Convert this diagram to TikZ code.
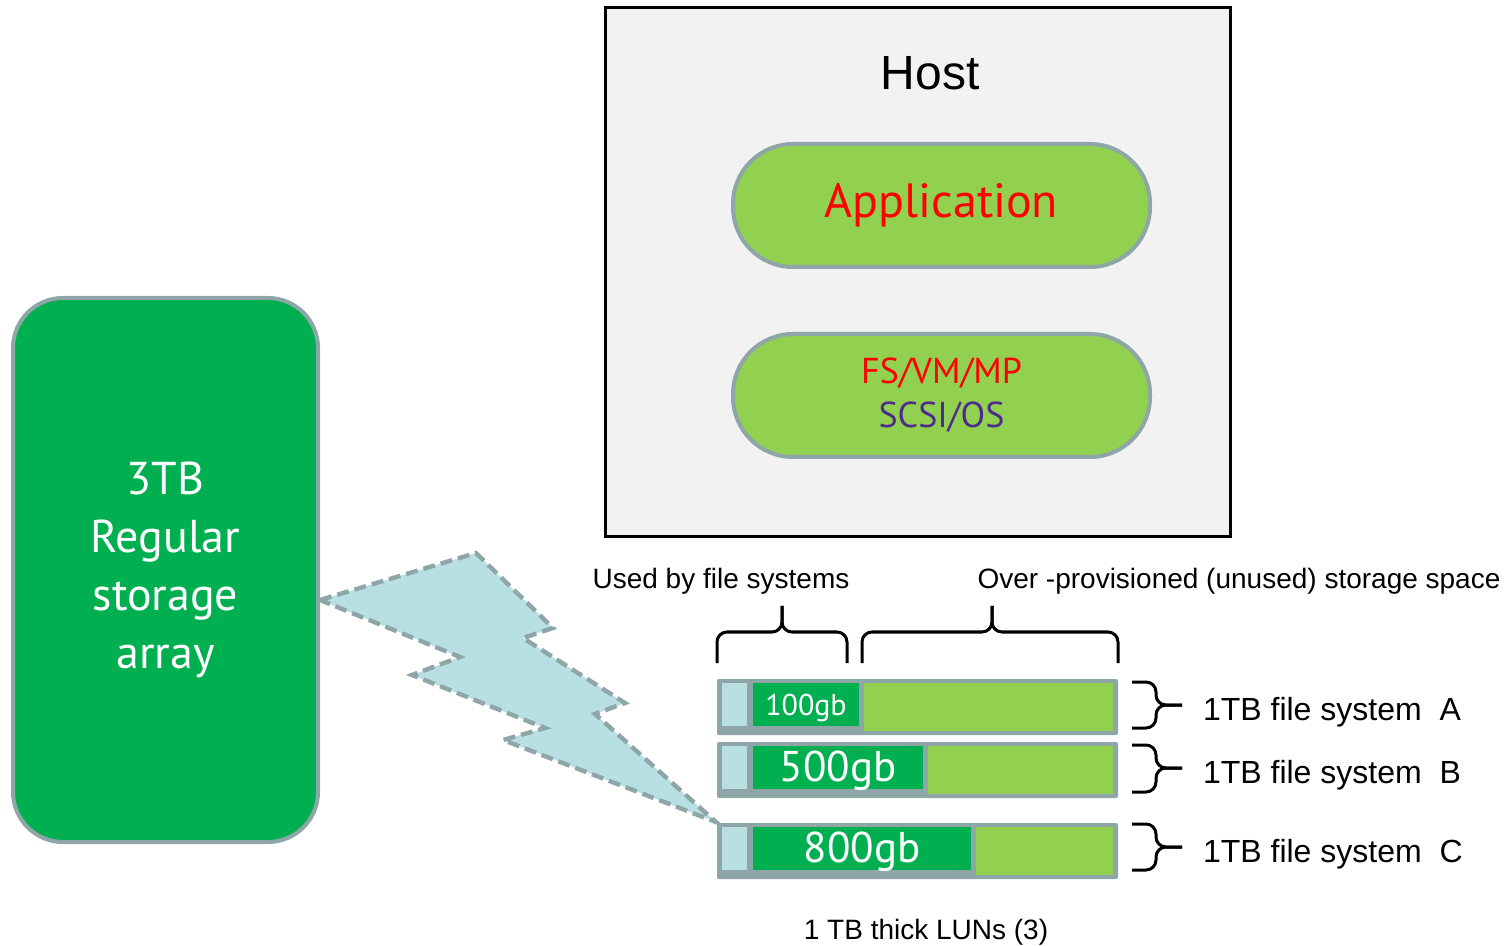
\documentclass[tikz,border=0pt]{standalone}
\usepackage{fontspec}
\setmainfont{Liberation Sans}
\newfontfamily\gillfont{PT Sans}
\definecolor{lungray}{HTML}{8EA6A8}
\definecolor{usedgreen}{HTML}{00B050}
\definecolor{freegreen}{HTML}{92D050}
\definecolor{boltblue}{HTML}{B8DFE2}
\definecolor{hostgray}{HTML}{F2F2F2}
\definecolor{scsipurple}{HTML}{4E2C8E}
\tikzset{
  pill/.style={draw=lungray,line width=2pt,fill=freegreen,rounded corners=30pt,
    minimum width=208.5pt,minimum height=61.5pt,font=\gillfont,align=center},
  brace/.style={line width=1.5pt,rounded corners=5pt},
  lbl/.style={font=\fontsize{14}{16}\selectfont},
}
\begin{document}
\begin{tikzpicture}[x=0.5pt,y=-0.5pt]
  \useasboundingbox (0,0) rectangle (1511,946);
  % host with its two layers
  \node[draw,line width=1.5pt,fill=hostgray,minimum width=312.5pt,minimum height=264.5pt]
    (host) at (917.5,272.5) {};
  \node[font=\fontsize{24}{28}\selectfont] (hostname) at (930,73) {Host};
  \node[pill,text=red,font=\gillfont\fontsize{24}{28}\selectfont] (app) at (941.5,205.5) {Application};
  \node[pill,font=\gillfont\fontsize{18}{22}\selectfont] (stack) at (941.5,395.5)
    {\textcolor{red}{FS/VM/MP}\\\textcolor{scsipurple}{SCSI/OS}};
  % the array
  \node[draw=lungray,line width=2pt,fill=usedgreen,rounded corners=25pt,
    minimum width=152.5pt,minimum height=272pt,text=white,align=center,
    font=\gillfont\fontsize{23}{29}\selectfont] (array) at (165.5,570)
    {3TB\\Regular\\storage\\array};
  % lightning link
  \draw[fill=boltblue,draw=lungray,line width=2.2pt,dash pattern=on 6pt off 3pt]
    (320,600) -- (476,553) -- (553,628) -- (523,638) -- (625,703) -- (595,714)
    -- (716,822) -- (503,740) -- (545,728) -- (412,675) -- (460,657) -- cycle;
  % thick LUNs
  \foreach \top/\used/\size/\sz/\nm in {679/859/100gb/15/lunA,742/923/500gb/21.5/lunB,823/971/800gb/21.5/lunC}{
    \fill[lungray,rounded corners=1pt] (717,\top) rectangle (1118,\top+56);
    \fill[boltblue] (722,\top+4) rectangle (747,\top+47);
    \fill[freegreen] (\used+5,\top+4) rectangle (1113,\top+52);
    \fill[usedgreen] (753,\top+4) rectangle (\used,\top+47);
    \node[text=white,font=\gillfont\fontsize{\sz}{\sz}\selectfont] (\nm)
      at ({(753+\used)/2},\top+29) {\size};
  }
  % braces on top
  \draw[brace] (717,663) |- (782,632) -- (782,606);
  \draw[brace] (847,663) |- (782,632) -- (782,606);
  \draw[brace] (862,663) |- (992,632) -- (992,606);
  \draw[brace] (1118,663) |- (992,632) -- (992,606);
  \node[lbl] (usedlbl) at (721,581) {Used by file systems};
  \node[lbl] (overlbl) at (1239,581) {Over -provisioned (unused) storage space};
  % braces on the right
  \foreach \a/\b/\t/\fs in {682/728/705/A,745/792/768/B,824/870/847/C}{
    \draw[brace] (1132,\a) -| (1156,\t) -- (1182,\t);
    \draw[brace] (1132,\b) -| (1156,\t) -- (1182,\t);
    \node[anchor=west,font=\fontsize{16}{18}\selectfont] (fs\fs) at (1196,\t+7)
      {1TB file system\ \ \fs};
  }
  \node[lbl] (lunlbl) at (926,932) {1 TB thick LUNs (3)};
\end{tikzpicture}
\end{document}
